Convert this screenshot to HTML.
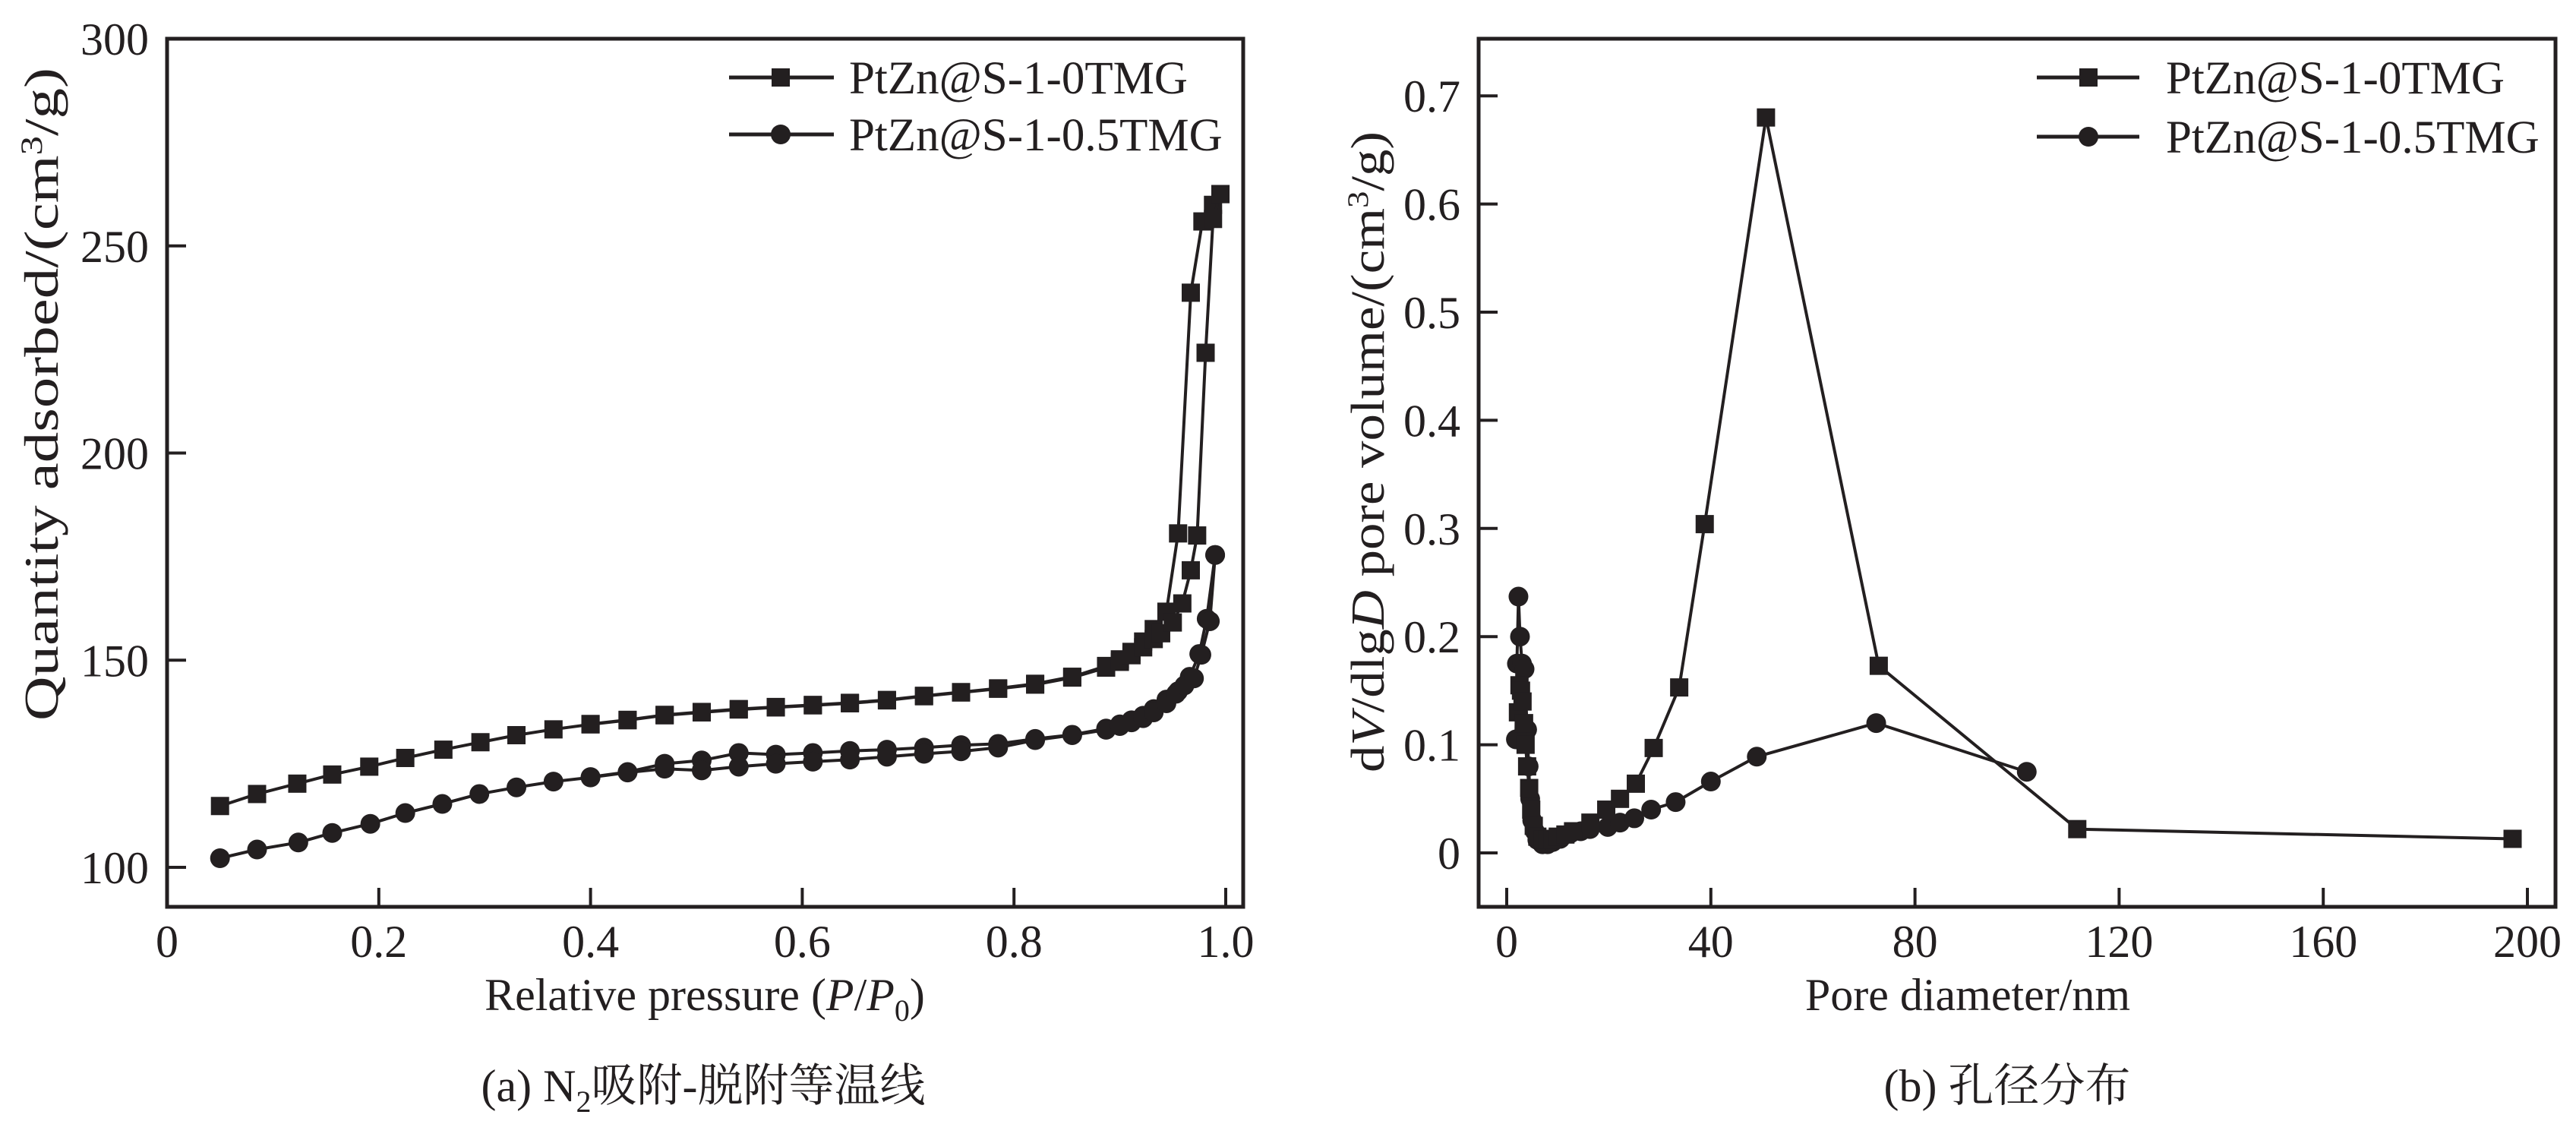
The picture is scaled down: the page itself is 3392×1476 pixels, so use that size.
<!DOCTYPE html>
<html><head><meta charset="utf-8"><style>
html,body{margin:0;padding:0;background:#fff;}
svg{display:block;}
text{font-family:"Liberation Serif","Noto Serif CJK SC",serif;fill:#231f20;}
</style></head><body>
<svg id="fig" width="3392" height="1476" viewBox="0 0 3392 1476">
<g id="pa"></g>
<g id="pb"></g>
</svg>
<script>
// ---- Chart (a) data ----
const aAdsP0 = [0.05,0.085,0.123,0.156,0.191,0.225,0.261,0.296,0.33,0.365,0.4,0.435,0.47,0.505,0.54,0.575,0.61,0.645,0.68,0.715,0.75,0.785,0.82,0.855,0.887,0.9,0.911,0.922,0.932,0.939,0.95,0.959,0.967,0.973,0.981,0.988,0.995];
const aAdsV0 = [114.8,117.7,120.2,122.4,124.3,126.4,128.4,130.2,131.9,133.3,134.5,135.5,136.7,137.4,138.1,138.6,139.1,139.6,140.3,141.3,142.2,143.1,144.1,145.8,148.2,149.6,151.2,153.1,155.1,156.5,159.1,163.7,171.7,180.1,224.2,256.5,262.5];
const aDesP0 = [0.995,0.988,0.978,0.967,0.955,0.944,0.932,0.922,0.911,0.9,0.887,0.855,0.82,0.785,0.75,0.715,0.68,0.645,0.61,0.575,0.54,0.505,0.47,0.435,0.4];
const aDesV0 = [262.5,259.9,255.9,238.7,180.6,161.7,157.5,154.5,152.0,150.2,148.6,146.0,144.3,143.2,142.3,141.4,140.4,139.7,139.2,138.7,138.2,137.5,136.8,135.6,134.6];
const aAdsP1 = [0.05,0.085,0.124,0.156,0.192,0.225,0.26,0.295,0.33,0.365,0.4,0.435,0.47,0.505,0.54,0.575,0.61,0.645,0.68,0.715,0.75,0.785,0.82,0.855,0.887,0.9,0.911,0.922,0.932,0.944,0.953,0.961,0.97,0.977,0.985,0.99];
const aAdsV1 = [102.2,104.3,106.0,108.3,110.5,113.1,115.3,117.7,119.3,120.7,121.7,122.9,123.8,123.4,124.3,125.0,125.5,126.0,126.7,127.4,128.0,128.9,130.7,131.9,133.2,134.1,135.0,136.0,137.4,139.6,141.9,143.9,145.6,151.3,159.4,175.4];
const aDesP1 = [0.99,0.982,0.975,0.966,0.955,0.944,0.932,0.922,0.911,0.9,0.887,0.855,0.82,0.785,0.75,0.715,0.68,0.645,0.61,0.575,0.54,0.505,0.47,0.435,0.4];
const aDesV1 = [175.4,160.0,151.5,146.0,142.5,140.5,138.2,136.6,135.5,134.5,133.5,132.0,131.0,129.8,129.5,128.9,128.4,128.1,127.6,127.2,127.6,125.8,125.0,123.0,121.8];
const aXTicks = [0,0.2,0.4,0.6,0.8,1.0];
const aXTickLabels = ["0","0.2","0.4","0.6","0.8","1.0"];
const aYTicks = [100,150,200,250,300];
const aYTickLabels = ["100","150","200","250","300"];
// ---- Chart (b) data ----
const bD0 = [2.2,2.5,2.8,3.1,3.4,3.7,4.0,4.4,4.8,5.3,6.0,7.0,8.0,9.0,10.0,11.5,13.0,16.4,19.5,22.2,25.3,28.8,33.8,38.8,50.8,72.9,111.8,197.1];
const bV0 = [0.13,0.155,0.15,0.14,0.12,0.10,0.08,0.06,0.04,0.025,0.015,0.012,0.012,0.013,0.015,0.017,0.02,0.028,0.04,0.05,0.064,0.097,0.153,0.304,0.680,0.173,0.022,0.013];
const bD1 = [1.8,2.0,2.3,2.6,3.0,3.5,4.0,4.3,4.6,5.0,5.5,6.0,7.0,8.0,9.0,10.5,12.5,14.5,16.3,19.8,22.2,25.0,28.3,33.1,40.0,49.0,72.4,101.9];
const bV1 = [0.105,0.175,0.237,0.2,0.175,0.17,0.114,0.08,0.05,0.03,0.02,0.012,0.008,0.008,0.01,0.013,0.018,0.02,0.022,0.024,0.028,0.032,0.04,0.047,0.066,0.089,0.12,0.075];
const bXTicks = [0,40,80,120,160,200];
const bXTickLabels = ["0","40","80","120","160","200"];
const bYTicks = [0,0.1,0.2,0.3,0.4,0.5,0.6,0.7];
const bYTickLabels = ["0","0.1","0.2","0.3","0.4","0.5","0.6","0.7"];

const NS = "http://www.w3.org/2000/svg";
function mk(parent, tag, attrs, txt){
  const e = document.createElementNS(NS, tag);
  for (const k in attrs) e.setAttribute(k, attrs[k]);
  if (txt !== undefined) e.textContent = txt;
  parent.appendChild(e);
  return e;
}
const INK = "#231f20";

function drawFrame(g, L, T, R, B){
  const f = mk(g, "rect", {x:L, y:T, width:R-L, height:B-T, fill:"none", stroke:INK, "stroke-width":5});
  
  
}
function drawSeries(g, xs, ys, X, Y, shape, name){
  const pts = xs.map((x,i)=>X(x).toFixed(1)+","+Y(ys[i]).toFixed(1)).join(" ");
  const pl = mk(g, "polyline", {points:pts, fill:"none", stroke:INK, "stroke-width":4, "stroke-linejoin":"round"});
  
  
  xs.forEach((x,i)=>{
    let m;
    if (shape === "sq") m = mk(g, "rect", {x:X(x)-12, y:Y(ys[i])-12, width:24, height:24, fill:INK});
    else m = mk(g, "circle", {cx:X(x), cy:Y(ys[i]), r:13, fill:INK});
    
    
  });
}
function drawLegend(g, lx1, lx2, mx, tx, y1, y2){
  const rows = [[y1,"sq","PtZn@S-1-0TMG"],[y2,"ci","PtZn@S-1-0.5TMG"]];
  rows.forEach(r=>{
    const ln = mk(g, "line", {x1:lx1, x2:lx2, y1:r[0], y2:r[0], stroke:INK, "stroke-width":5});
    
    
    let m;
    if (r[1]==="sq") m = mk(g, "rect", {x:mx-12, y:r[0]-12, width:24, height:24, fill:INK});
    else m = mk(g, "circle", {cx:mx, cy:r[0], r:13, fill:INK});
    
    
    const t = mk(g, "text", {x:tx, y:r[0]+21, "font-size":61}, r[2]);
    
    
  });
}

// ===== Chart (a) =====
(function(){
  const g = document.getElementById("pa");
  const L=220, T=51, R=1637, B=1194;
  const X = p => 220 + p*1394;
  const Y = v => 1142 - (v-100)*5.455;
  drawFrame(g, L, T, R, B);
  aXTicks.forEach((t,i)=>{
    const tk = mk(g, "line", {x1:X(t), x2:X(t), y1:B, y2:B-25, stroke:INK, "stroke-width":4});
    
    
    const lb = mk(g, "text", {x:X(t), y:1260, "font-size":60, "text-anchor":"middle"}, aXTickLabels[i]);
    
    
  });
  aYTicks.forEach((t,i)=>{
    const tk = mk(g, "line", {x1:L, x2:L+25, y1:Y(t), y2:Y(t), stroke:INK, "stroke-width":4});
    
    
    const lb = mk(g, "text", {x:196, y:Y(t)+21, "font-size":60, "text-anchor":"end"}, aYTickLabels[i]);
    
    
  });
  drawSeries(g, aDesP0, aDesV0, X, Y, "sq", "desorption-0tmg");
  drawSeries(g, aAdsP0, aAdsV0, X, Y, "sq", "adsorption-0tmg");
  drawSeries(g, aDesP1, aDesV1, X, Y, "ci", "desorption-05tmg");
  drawSeries(g, aAdsP1, aAdsV1, X, Y, "ci", "adsorption-05tmg");
  drawLegend(g, 960, 1098, 1028, 1118, 102, 177);
  const xt = mk(g, "text", {x:928, y:1330, "font-size":60, "text-anchor":"middle"});
  xt.innerHTML = 'Relative pressure (<tspan font-style="italic">P</tspan>/<tspan font-style="italic">P</tspan><tspan font-size="40" dy="14">0</tspan><tspan dy="-14">)</tspan>';
  
  
  const yt = mk(g, "text", {x:0, y:0, "font-size":64, "text-anchor":"middle", textLength:860, lengthAdjust:"spacingAndGlyphs", transform:"translate(76,519) rotate(-90)"});
  yt.innerHTML = 'Quantity adsorbed/(cm<tspan font-size="40" dy="-21">3</tspan><tspan dy="21">/g)</tspan>';
  
  
  const cap = mk(g, "text", {x:926, y:1450, "font-size":60, "text-anchor":"middle"});
  cap.innerHTML = '(a) N<tspan font-size="40" dy="14">2</tspan><tspan dy="-14">吸附-脱附等温线</tspan>';
  
  
})();

// ===== Chart (b) =====
(function(){
  const g = document.getElementById("pb");
  const L=1947, T=51, R=3365, B=1194;
  const X = d => 1984 + d*6.72;
  const Y = v => 1123 - v*1424;
  drawFrame(g, L, T, R, B);
  bXTicks.forEach((t,i)=>{
    const tk = mk(g, "line", {x1:X(t), x2:X(t), y1:B, y2:B-25, stroke:INK, "stroke-width":4});
    
    
    const lb = mk(g, "text", {x:X(t), y:1260, "font-size":60, "text-anchor":"middle"}, bXTickLabels[i]);
    
    
  });
  bYTicks.forEach((t,i)=>{
    const tk = mk(g, "line", {x1:L, x2:L+25, y1:Y(t), y2:Y(t), stroke:INK, "stroke-width":4});
    
    
    const lb = mk(g, "text", {x:1923, y:Y(t)+21, "font-size":60, "text-anchor":"end"}, bYTickLabels[i]);
    
    
  });
  drawSeries(g, bD1, bV1, X, Y, "ci", "pore-05tmg");
  drawSeries(g, bD0, bV0, X, Y, "sq", "pore-0tmg");
  drawLegend(g, 2682, 2817, 2750, 2852, 102, 180);
  const xt = mk(g, "text", {x:2591, y:1330, "font-size":60, "text-anchor":"middle"}, "Pore diameter/nm");
  
  
  const yt = mk(g, "text", {x:0, y:0, "font-size":62, "text-anchor":"middle", textLength:844, lengthAdjust:"spacingAndGlyphs", transform:"translate(1822,595) rotate(-90)"});
  yt.innerHTML = 'd<tspan font-style="italic">V</tspan>/dlg<tspan font-style="italic">D</tspan> pore volume/(cm<tspan font-size="39" dy="-21">3</tspan><tspan dy="21">/g)</tspan>';
  
  
  const cap = mk(g, "text", {x:2643, y:1450, "font-size":60, "text-anchor":"middle"}, "(b) 孔径分布");
  
  
})();
</script>
</body></html>
